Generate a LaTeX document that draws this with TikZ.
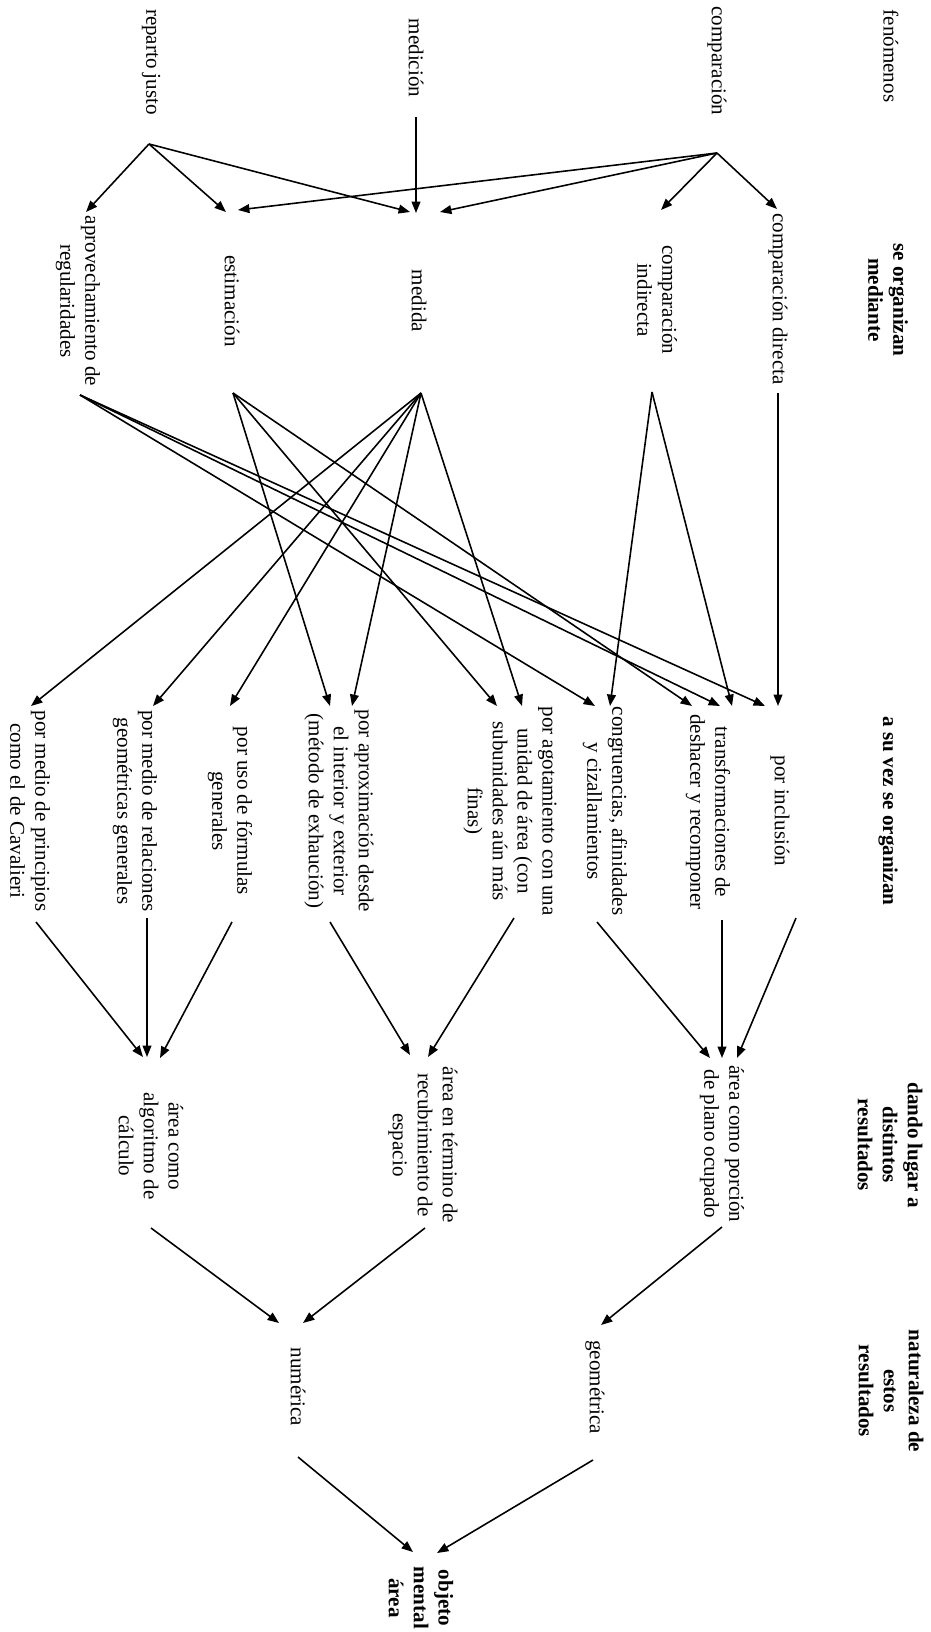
\documentclass[tikz,border=0pt]{standalone}
\usepackage{fontspec}
\setmainfont{Liberation Serif}
\usetikzlibrary{arrows.meta,calc}

\tikzset{
	lbl/.style={rotate=-90, align=center, inner sep=0pt, font=\fontsize{12}{14.2}\selectfont},
	hd/.style={lbl, font=\bfseries\fontsize{12}{14.2}\selectfont},
	arr/.style={-{Triangle[length=6.5pt,width=5pt]}, line width=0.9pt},
}

\begin{document}
\begin{tikzpicture}[x=0.02cm, y=-0.02cm]
	\useasboundingbox (0,0) rectangle (930,1632);

	% right column
	\node[lbl] (fen) at (891,56) {fenómenos};
	\node[hd] (org) at (888,300) {se organizan\\mediante};
	\node[hd] (vez) at (888,811) {a su vez se organizan};
	\node[hd] (dando) at (890,1145) {dando lugar a\\distintos\\resultados};
	\node[hd] (nat) at (891,1391) {naturaleza de\\estos\\resultados};


	\node[lbl] (comp) at (717,61) {comparación};
	\node[lbl] (medic) at (416,58) {medición};
	\node[lbl] (rep) at (151,62) {reparto justo};

		\node[lbl] (dir) at (778,299) {comparación directa};
		\node[lbl] (ind) at (657,300) {comparación\\indirecta};
		\node[lbl] (med) at (419,301) {medida};
		\node[lbl] (est) at (232,301) {estimación};
		\node[lbl] (apr) at (78,301) {aprovechamiento de\\regularidades};

		\draw[arr] ($(comp)+(0,92)$) -- ($(dir)+(-1,-90)$);
		\draw[arr] ($(comp)+(0,92)$) -- ($(ind)+(4,-90)$);
		\draw[arr] ($(comp)+(0,92)$) -- ($(med)+(21,-89)$);
		\draw[arr] ($(comp)+(0,92)$) -- ($(est)+(6,-91)$);
		\draw[arr] ($(medic)+(0,59)$) -- ($(med)+(-3,-88)$);
		\draw[arr] ($(rep)+(-2,82)$) -- ($(apr)+(8,-89)$);
		\draw[arr] ($(rep)+(-2,82)$) -- ($(est)+(-6,-89)$);
		\draw[arr] ($(rep)+(-2,82)$) -- ($(med)+(-9,-89)$);

			\node[lbl] (inc) at (780,811) {por inclusión};
			\node[lbl] (tra) at (708,812) {transformaciones de\\deshacer y recomponer};
			\node[lbl] (con) at (605,811) {congruencias, afinidades\\y cizallamientos};
			\node[lbl] (ago) at (510,811) {por agotamiento con una\\unidad de área (con\\subunidades aún más\\finas)};
			\node[lbl] (apx) at (339,811) {por aproximación desde\\el interior y exterior\\(método de exhaución)};
			\node[lbl] (for) at (230,811) {por uso de fórmulas\\generales};
			\node[lbl] (rel) at (135,811) {por medio de relaciones\\geométricas generales};
			\node[lbl] (pri) at (30,811) {por medio de principios\\como el de Cavalieri};

			\draw[arr] ($(dir)+(0,94)$) -- ($(inc)+(-2,-105)$);
			\draw[arr] ($(ind)+(-5,92)$) -- ($(con)+(5,-105)$);
			\draw[arr] ($(ind)+(-5,92)$) -- ($(tra)+(24,-106)$);
			\draw[arr] ($(med)+(2,92)$) -- ($(pri)+(1,-105)$);
			\draw[arr] ($(med)+(2,92)$) -- ($(rel)+(18,-105)$);
			\draw[arr] ($(med)+(2,92)$) -- ($(for)+(0,-105)$);
			\draw[arr] ($(med)+(2,92)$) -- ($(apx)+(13,-105)$);
			\draw[arr] ($(med)+(2,92)$) -- ($(ago)+(12,-105)$);
			\draw[arr] ($(est)+(1,92)$) -- ($(apx)+(-9,-105)$);
			\draw[arr] ($(est)+(1,92)$) -- ($(ago)+(-13,-105)$);
			\draw[arr] ($(est)+(1,92)$) -- ($(tra)+(-16,-106)$);
			\draw[arr] ($(apr)+(2,94)$) -- ($(con)+(-10,-105)$);
			\draw[arr] ($(apr)+(2,94)$) -- ($(tra)+(12,-106)$);
			\draw[arr] ($(apr)+(2,94)$) -- ($(inc)+(-15,-105)$);

				\node[lbl] (por) at (722,1144) {área como porción\\de plano ocupado};
				\node[lbl] (rec) at (423,1145) {área en término de\\recubrimiento de\\espacio};
				\node[lbl] (cal) at (151,1146) {área como\\algoritmo de\\cálculo};

				\draw[arr] ($(inc)+(16,107)$) -- ($(por)+(15,-86)$);
				\draw[arr] ($(tra)+(14,108)$) -- ($(por)+(0,-86)$);
				\draw[arr] ($(con)+(-8,111)$) -- ($(por)+(-12,-86)$);
				\draw[arr] ($(ago)+(4,107)$) -- ($(rec)+(5,-88)$);
				\draw[arr] ($(apx)+(-9,111)$) -- ($(rec)+(-13,-90)$);
				\draw[arr] ($(for)+(2,111)$) -- ($(cal)+(9,-88)$);
				\draw[arr] ($(rel)+(12,107)$) -- ($(cal)+(-4,-89)$);
				\draw[arr] ($(pri)+(6,111)$) -- ($(cal)+(-8,-89)$);

					\node[lbl] (geo) at (595,1387) {geométrica};
					\node[lbl] (num) at (298,1387) {numérica};

					\draw[arr] ($(por)+(0,83)$) -- ($(geo)+(6,-62)$);
					\draw[arr] ($(rec)+(2,83)$) -- ($(num)+(5,-64)$);
					\draw[arr] ($(cal)+(0,82)$) -- ($(num)+(-19,-64)$);

						\node[hd] (obj) at (421,1598) {objeto\\mental\\área};

						\draw[arr] ($(num)+(0,70)$) -- ($(obj)+(-8,-46)$);
						\draw[arr] ($(geo)+(-2,73)$) -- ($(obj)+(16,-45)$);

\end{tikzpicture}
\end{document}
